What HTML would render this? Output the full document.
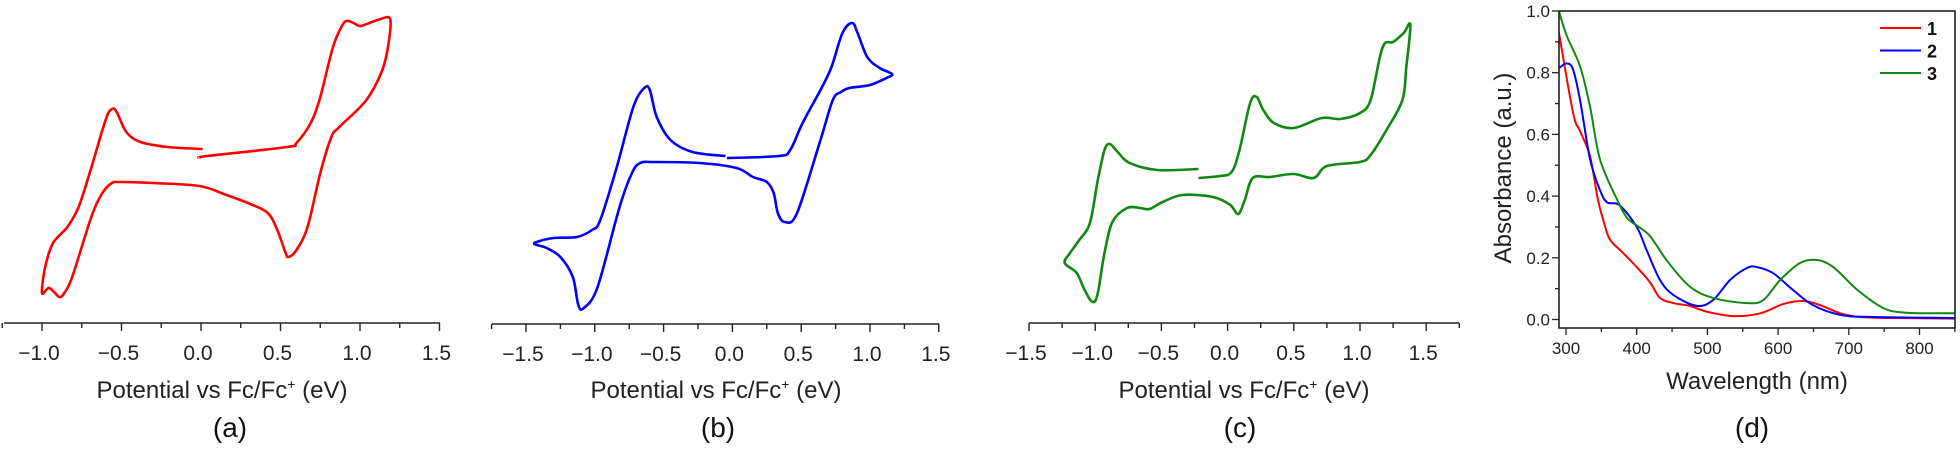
<!DOCTYPE html>
<html><head><meta charset="utf-8">
<style>
html,body{margin:0;padding:0;background:#fff;}
svg{display:block;font-family:"Liberation Sans",sans-serif;}
</style></head>
<body>
<svg id="fig" width="1960" height="453" viewBox="0 0 1960 453" xmlns="http://www.w3.org/2000/svg">
<defs><clipPath id="clipd"><rect x="1559" y="11" width="396" height="317"/></clipPath></defs>
</svg>
<script>
// ---------- data ----------
// Panel (a): potential (eV) and relative current (a.u.)
const aE = [-0.01,0.04,0.54,0.60,0.69,0.75,0.83,0.89,0.92,0.96,1.00,1.06,1.13,1.19,1.18,1.14,1.04,0.87,0.82,0.75,0.67,0.60,0.55,0.53,0.48,0.42,0.31,0.16,-0.01,-0.30,-0.51,-0.56,-0.62,-0.69,-0.81,-0.86,-0.89,-0.93,-0.96,-1.00,-0.98,-0.93,-0.84,-0.77,-0.70,-0.60,-0.56,-0.53,-0.47,-0.38,-0.21,0.01];
const aI = [142,144,153,157,177,203,253,275,279,277,274,277,281,281,257,230,200,173,163,127,73,50,43,48,70,87,96,105,114,117,118,117,107,83,23,7,3,9,12,7,33,57,73,93,127,180,191,188,168,158,153,151];
// Panel (b)
const bE = [-0.04,0.34,0.42,0.51,0.64,0.72,0.80,0.87,0.91,0.98,1.07,1.16,1.12,1.00,0.85,0.79,0.73,0.64,0.47,0.38,0.33,0.30,0.25,0.15,0.03,-0.24,-0.57,-0.67,-0.73,-0.82,-0.98,-1.08,-1.12,-1.16,-1.25,-1.35,-1.44,-1.40,-1.30,-1.13,-1.02,-0.96,-0.84,-0.72,-0.64,-0.60,-0.55,-0.45,-0.29,-0.05];
const bI = [142,144,150,177,210,233,267,277,267,243,232,226,222,215,212,208,200,160,87,78,87,107,118,123,132,137,138,137,127,93,13,-8,-5,23,43,52,56,59,62,63,70,80,133,193,212,210,183,160,148,144];
// Panel (c)
const cE = [-0.22,-0.06,0.03,0.09,0.17,0.22,0.27,0.35,0.50,0.71,0.85,1.00,1.08,1.15,1.19,1.25,1.33,1.38,1.35,1.32,1.20,1.08,1.00,0.75,0.65,0.50,0.32,0.19,0.13,0.08,0.02,-0.11,-0.34,-0.49,-0.59,-0.66,-0.76,-0.87,-0.93,-0.98,-1.02,-1.08,-1.14,-1.23,-1.19,-1.12,-1.04,-0.98,-0.93,-0.89,-0.83,-0.74,-0.53,-0.22];
const cI = [122,124,128,150,197,203,190,177,172,182,181,187,200,243,257,258,267,275,233,200,170,145,138,134,122,126,123,122,100,86,95,103,105,98,91,92,92,78,47,7,-2,10,27,37,47,60,77,120,150,156,148,137,130,131];
const cBreak = 1; // pen lifted after index cBreak-1? (gap between first and last point only)
// Panel (d): UV-vis absorbance
const dX1 = [290,310,320,334,345,353,362,381,400,419,433,452,475,500,537,575,607,635,659,688,716,760,850];
const dY1 = [0.93,0.67,0.61,0.53,0.39,0.32,0.26,0.215,0.17,0.12,0.07,0.053,0.044,0.025,0.011,0.02,0.05,0.06,0.047,0.02,0.008,0.005,0.003];
const dX2 = [290,301,310,320,334,348,358,376,400,414,433,452,485,508,532,556,570,593,621,649,688,735,850];
const dY2 = [0.815,0.83,0.81,0.71,0.52,0.42,0.38,0.37,0.30,0.225,0.128,0.079,0.044,0.063,0.128,0.167,0.17,0.15,0.096,0.047,0.015,0.008,0.005];
const dX3 = [290,301,320,334,348,372,386,400,419,443,475,508,556,579,603,631,655,678,712,749,782,850];
const dY3 = [1.0,0.92,0.82,0.69,0.52,0.39,0.33,0.305,0.27,0.19,0.107,0.07,0.053,0.063,0.128,0.183,0.193,0.17,0.096,0.037,0.022,0.02];
const cvTicks = [-1.5,-1.0,-0.5,0.0,0.5,1.0,1.5];
const cvTickLabels = ["\u22121.5","\u22121.0","\u22120.5","0.0","0.5","1.0","1.5"];
const dXTicks = [300,400,500,600,700,800];
const dYTicks = [0.0,0.2,0.4,0.6,0.8,1.0];
const dYTickLabels = ["0.0","0.2","0.4","0.6","0.8","1.0"];
const legendLabels = ["1","2","3"];

// ---------- helpers ----------
const svg = document.getElementById('fig');
const NS = 'http://www.w3.org/2000/svg';
function mk(tag, attrs, parent){
  const e = document.createElementNS(NS, tag);
  for (const k in attrs) e.setAttribute(k, attrs[k]);
  (parent||svg).appendChild(e);
  return e;
}
function smooth(pts){
  let d = 'M' + pts[0][0].toFixed(1) + ',' + pts[0][1].toFixed(1);
  for (let i=0;i<pts.length-1;i++){
    const p0 = pts[Math.max(0,i-1)], p1 = pts[i], p2 = pts[i+1], p3 = pts[Math.min(pts.length-1,i+2)];
    const c1x = p1[0] + (p2[0]-p0[0])/6, c1y = p1[1] + (p2[1]-p0[1])/6;
    const c2x = p2[0] - (p3[0]-p1[0])/6, c2y = p2[1] - (p3[1]-p1[1])/6;
    d += 'C'+c1x.toFixed(1)+','+c1y.toFixed(1)+' '+c2x.toFixed(1)+','+c2y.toFixed(1)+' '+p2[0].toFixed(1)+','+p2[1].toFixed(1);
  }
  return d;
}
function cvPanel(cfg){
  const g = mk('g', {});
  
  
  const xs = E => cfg.x0 + E * cfg.k;
  const ys = I => 300 - I;
  // axis
  const ax = mk('line', {x1:cfg.left, x2:cfg.right, y1:cfg.axisY, y2:cfg.axisY, stroke:'#222', 'stroke-width':1.6}, g);
  
  
  for (let v = cfg.minE; v <= cfg.maxE + 1e-6; v += 0.25){
    const major = Math.abs(Math.round(v*2) - v*2) < 1e-6;
    mk('line', {x1:xs(v), x2:xs(v), y1:cfg.axisY, y2:cfg.axisY + (major?8:5), stroke:'#222', 'stroke-width':1.4}, g);
  }
  cvTicks.forEach((v,i)=>{
    if (v < cfg.minE - 1e-6 || v > cfg.maxE + 1e-6) return;
    const t = mk('text', {x:xs(v)-3, y:cfg.axisY+37, 'font-size':21, 'text-anchor':'middle', fill:'#222'}, g);
    t.textContent = cvTickLabels[i];
    
    
  });
  const title = mk('text', {x:cfg.cx, y:398, 'font-size':24, 'text-anchor':'middle', fill:'#222'}, g);
  
  
  title.innerHTML = 'Potential vs Fc/Fc<tspan dy="-9" font-size="14">+</tspan><tspan dy="9"> (eV)</tspan>';
  const lab = mk('text', {x:cfg.lx, y:437, 'font-size':28, 'text-anchor':'middle', fill:'#111'}, g);
  lab.textContent = cfg.label;
  
  
  const pts = cfg.E.map((e,i)=>[xs(e), ys(cfg.I[i])]);
  const p = mk('path', {d:smooth(pts), fill:'none', stroke:cfg.color, 'stroke-width':2.6, 'stroke-linejoin':'round'}, g);
  
  
}
cvPanel({name:'panel-a', E:aE, I:aI, color:'#ff0000', x0:201, k:159, left:4, right:440, minE:-1.25, maxE:1.5, axisY:323, cx:222, lx:230, label:'(a)'});
cvPanel({name:'panel-b', E:bE, I:bI, color:'#0000ff', x0:732.4, k:137.6, left:492, right:939, minE:-1.75, maxE:1.5, axisY:324, cx:716, lx:718, label:'(b)'});
cvPanel({name:'panel-c', E:cE, I:cI, color:'#118811', x0:1227.6, k:132.4, left:1029, right:1459, minE:-1.5, maxE:1.75, axisY:323, cx:1244, lx:1240, label:'(c)'});

// ---------- panel d ----------
(function(){
  const g = mk('g', {});
  
  
  const xs = w => 1566 + (w-300)*0.707;
  const ys = a => 319.5 - a*308.5;
  const L=1559, T=11, R=1955, B=328;
  const series = [[dX1,dY1,'#ff0000'],[dX2,dY2,'#0000ff'],[dX3,dY3,'#118811']];
  const cg = mk('g', {'clip-path':'url(#clipd)'}, g);
  series.forEach((s,si)=>{
    const pts = s[0].map((w,i)=>[xs(w), ys(s[1][i])]);
    const p = mk('path', {d:smooth(pts), fill:'none', stroke:s[2], 'stroke-width':2}, cg);
    
    
  });
  const fr = mk('rect', {x:L, y:T, width:R-L, height:B-T, fill:'none', stroke:'#222', 'stroke-width':1.6}, g);
  
  
  for (let w=300; w<=850; w+=50){
    const major = w%100===0;
    mk('line', {x1:xs(w), x2:xs(w), y1:B, y2:B+(major?7:4), stroke:'#222', 'stroke-width':1.3}, g);
  }
  dXTicks.forEach(w=>{
    const t = mk('text', {x:xs(w), y:B+26, 'font-size':17, 'text-anchor':'middle', fill:'#222'}, g);
    t.textContent = String(w);
    
    
  });
  for (let a=0; a<=1.0001; a+=0.1){
    const major = Math.round(a*10)%2===0;
    mk('line', {x1:L, x2:L-(major?7:4), y1:ys(a), y2:ys(a), stroke:'#222', 'stroke-width':1.3}, g);
  }
  dYTicks.forEach((a,i)=>{
    const t = mk('text', {x:L-9, y:ys(a)+6, 'font-size':17, 'text-anchor':'end', fill:'#222'}, g);
    t.textContent = dYTickLabels[i];
    
    
  });
  const xt = mk('text', {x:1757, y:389, 'font-size':24, 'text-anchor':'middle', fill:'#222'}, g);
  xt.textContent = 'Wavelength (nm)';
  
  
  const yt = mk('text', {x:0, y:0, 'font-size':24, 'text-anchor':'middle', fill:'#222', transform:'translate(1511,168) rotate(-90)'}, g);
  yt.textContent = 'Absorbance (a.u.)';
  
  
  const lab = mk('text', {x:1752, y:437, 'font-size':28, 'text-anchor':'middle', fill:'#111'}, g);
  lab.textContent = '(d)';
  
  
  legendLabels.forEach((txt,i)=>{
    const y = 28 + i*22.5;
    const lg = mk('g', {}, g);
    
    
    mk('line', {x1:1880, x2:1921, y1:y, y2:y, stroke:series[i][2], 'stroke-width':2}, lg);
    const t = mk('text', {x:1927, y:y+7, 'font-size':18, 'font-weight':'bold', fill:'#111'}, lg);
    t.textContent = txt;
  });
})();
</script>
</body></html>
